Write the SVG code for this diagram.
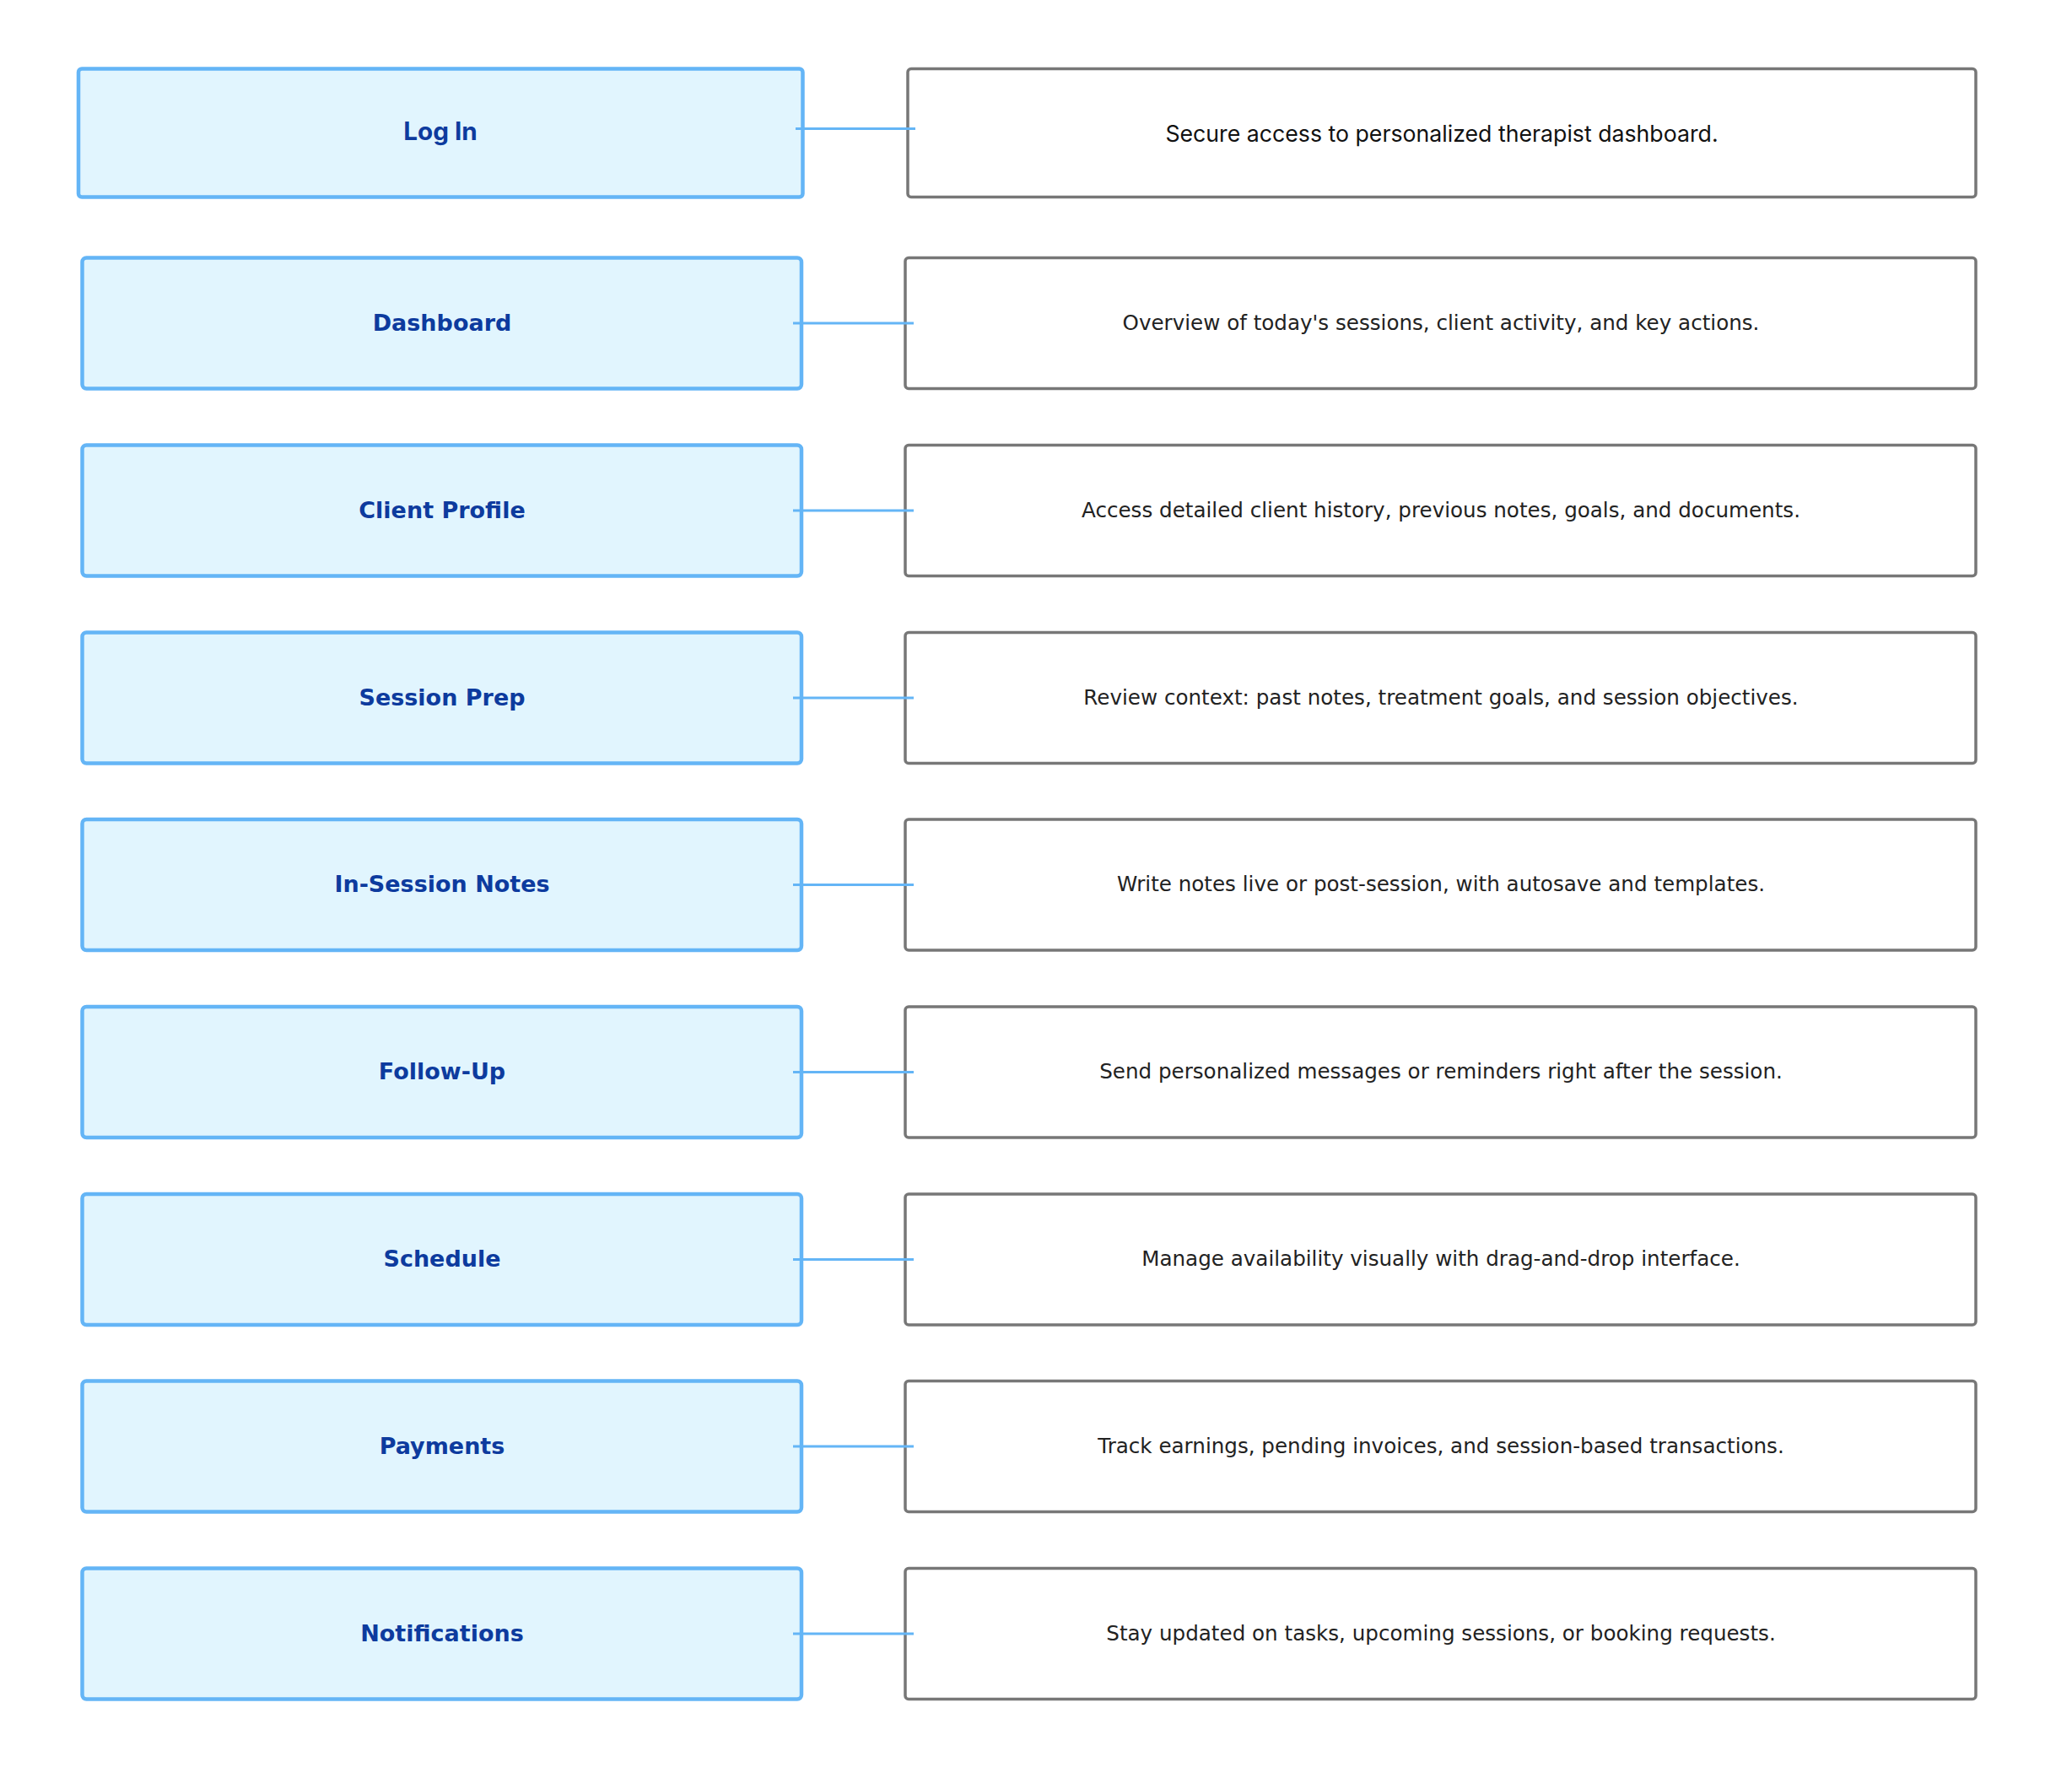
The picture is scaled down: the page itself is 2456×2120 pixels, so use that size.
<svg xmlns="http://www.w3.org/2000/svg" width="2456" height="2120" viewBox="0 0 2456 2120">
<style>
.step{fill:#e1f5fe;stroke:#64b5f6;stroke-width:4.5}
.desc{fill:#ffffff;stroke:#777777;stroke-width:3.5}
.lbl{font-family:"DejaVu Sans",sans-serif;font-weight:bold;font-size:27px;fill:#0d3b9e;text-anchor:middle;dominant-baseline:central}
.txt{font-family:"DejaVu Sans",sans-serif;font-size:24.6px;fill:#222222;text-anchor:middle;dominant-baseline:central}
.lbl1{font-family:Inter,sans-serif;font-weight:bold;font-size:29.7px;fill:#0d3b9e;text-anchor:middle;dominant-baseline:central}
.txt1{font-family:Inter,sans-serif;font-size:26.7px;fill:#111111;text-anchor:middle;dominant-baseline:central}
.conn{stroke:#64b5f6;stroke-width:3;fill:none}
</style>
<rect width="2456" height="2120" fill="#ffffff"/>
<g id="login"><rect class="step" x="93" y="81.5" width="858.5" height="152" rx="4"/><text class="lbl1" x="522" y="155">Log In</text></g>
<g id="login-desc"><rect class="desc" x="1076" y="81.5" width="1266" height="152" rx="4"/><text class="txt1" x="1709" y="158">Secure access to personalized therapist dashboard.</text></g>
<g id="dashboard"><rect class="step" x="97.5" y="305.5" width="852.5" height="155" rx="5"/><text class="lbl" x="524" y="382">Dashboard</text></g>
<g id="dashboard-desc"><rect class="desc" x="1073" y="305.5" width="1269" height="155" rx="4"/><text class="txt" x="1708" y="382">Overview of today's sessions, client activity, and key actions.</text></g>
<g id="client-profile"><rect class="step" x="97.5" y="527.5" width="852.5" height="155" rx="5"/><text class="lbl" x="524" y="604">Client Profile</text></g>
<g id="client-profile-desc"><rect class="desc" x="1073" y="527.5" width="1269" height="155" rx="4"/><text class="txt" x="1708" y="604">Access detailed client history, previous notes, goals, and documents.</text></g>
<g id="session-prep"><rect class="step" x="97.5" y="749.5" width="852.5" height="155" rx="5"/><text class="lbl" x="524" y="826">Session Prep</text></g>
<g id="session-prep-desc"><rect class="desc" x="1073" y="749.5" width="1269" height="155" rx="4"/><text class="txt" x="1708" y="826">Review context: past notes, treatment goals, and session objectives.</text></g>
<g id="in-session-notes"><rect class="step" x="97.5" y="971" width="852.5" height="155" rx="5"/><text class="lbl" x="524" y="1047.5">In-Session Notes</text></g>
<g id="in-session-notes-desc"><rect class="desc" x="1073" y="971" width="1269" height="155" rx="4"/><text class="txt" x="1708" y="1047.5">Write notes live or post-session, with autosave and templates.</text></g>
<g id="follow-up"><rect class="step" x="97.5" y="1193" width="852.5" height="155" rx="5"/><text class="lbl" x="524" y="1269.5">Follow-Up</text></g>
<g id="follow-up-desc"><rect class="desc" x="1073" y="1193" width="1269" height="155" rx="4"/><text class="txt" x="1708" y="1269.5">Send personalized messages or reminders right after the session.</text></g>
<g id="schedule"><rect class="step" x="97.5" y="1415" width="852.5" height="155" rx="5"/><text class="lbl" x="524" y="1491.5">Schedule</text></g>
<g id="schedule-desc"><rect class="desc" x="1073" y="1415" width="1269" height="155" rx="4"/><text class="txt" x="1708" y="1491.5">Manage availability visually with drag-and-drop interface.</text></g>
<g id="payments"><rect class="step" x="97.5" y="1636.5" width="852.5" height="155" rx="5"/><text class="lbl" x="524" y="1713">Payments</text></g>
<g id="payments-desc"><rect class="desc" x="1073" y="1636.5" width="1269" height="155" rx="4"/><text class="txt" x="1708" y="1713">Track earnings, pending invoices, and session-based transactions.</text></g>
<g id="notifications"><rect class="step" x="97.5" y="1858.5" width="852.5" height="155" rx="5"/><text class="lbl" x="524" y="1935">Notifications</text></g>
<g id="notifications-desc"><rect class="desc" x="1073" y="1858.5" width="1269" height="155" rx="4"/><text class="txt" x="1708" y="1935">Stay updated on tasks, upcoming sessions, or booking requests.</text></g>
<g id="connectors">
<line class="conn" x1="943" y1="152.5" x2="1085" y2="152.5"/>
<line class="conn" x1="940" y1="383" x2="1083" y2="383"/>
<line class="conn" x1="940" y1="605" x2="1083" y2="605"/>
<line class="conn" x1="940" y1="827" x2="1083" y2="827"/>
<line class="conn" x1="940" y1="1048.5" x2="1083" y2="1048.5"/>
<line class="conn" x1="940" y1="1270.5" x2="1083" y2="1270.5"/>
<line class="conn" x1="940" y1="1492.5" x2="1083" y2="1492.5"/>
<line class="conn" x1="940" y1="1714" x2="1083" y2="1714"/>
<line class="conn" x1="940" y1="1936" x2="1083" y2="1936"/>
</g>
</svg>
